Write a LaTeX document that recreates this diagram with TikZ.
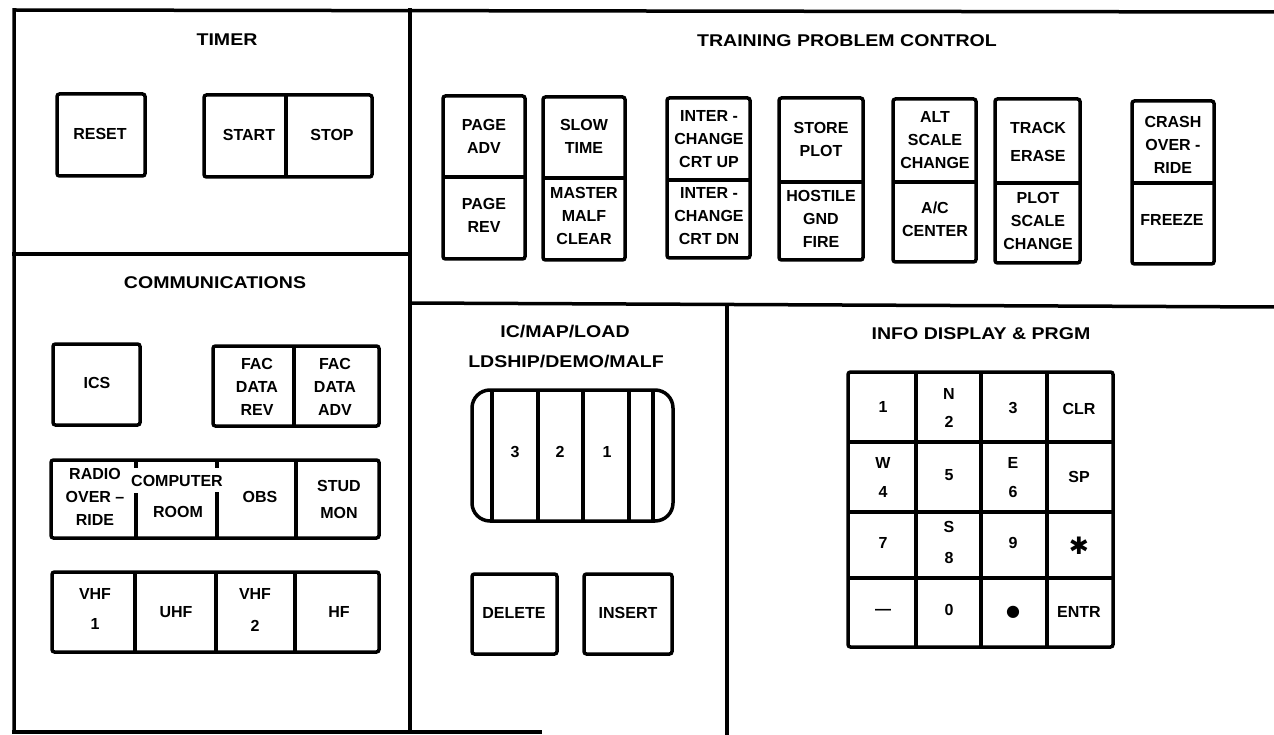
\documentclass[tikz,border=0pt]{standalone}
\usepackage{fontspec}
\setmainfont{Liberation Sans}
\newfontfamily\ttlfamily[FakeStretch=1.15]{Liberation Sans}
\newfontfamily\symfamily{DejaVu Sans}
\newcommand{\btnfont}{\bfseries\fontsize{16}{23}\selectfont}
\newcommand{\ttlfont}{\ttlfamily\bfseries\fontsize{17}{30}\selectfont}
\begin{document}
\begin{tikzpicture}[x=1pt,y=-1pt,
  panel/.style={line width=3.5pt, line cap=rect},
  btn/.style={line width=3.5pt, rounded corners=2.5pt},
  divider/.style={line width=3.2pt},
  lbl/.style={font=\btnfont, align=center, inner sep=0pt},
  ttl/.style={font=\ttlfont, inner sep=0pt}]
\useasboundingbox (0,0) rectangle (1274,735);
\fill[white] (0,0) rectangle (1274,735);
% ---------------- panel outlines ----------------
\draw[panel] (14,732) -- (14,10) -- (1274,12);
\draw[panel] (14,254) -- (410,254);
\draw[panel] (410,10) -- (410,732);
\draw[panel] (410,303) -- (1274,307);
\draw[panel] (727,305) -- (727,735);
\draw[panel] (14,732) -- (540,732);
% ---------------- TIMER ----------------
\node[ttl] (ttimer) at (227,40) {TIMER};
\draw[btn] (57,94) rectangle (145,176);
\node[lbl] (reset) at (100,134) {RESET};
\draw[btn] (204,95) rectangle (372,177);
\draw[divider] (286,95) -- (286,177);
\node[lbl] (start) at (249,135) {START};
\node[lbl] (stop) at (332,135) {STOP};
% ---------------- TRAINING PROBLEM CONTROL ----------------
\node[ttl] (ttrain) at (847,41) {TRAINING PROBLEM CONTROL};
\draw[btn] (443,96) rectangle (525,259);
\draw[divider] (443,177) -- (525,177);
\node[lbl] (pageadv) at (484,136.5) {PAGE\\ADV};
\node[lbl] (pagerev) at (484,215.5) {PAGE\\REV};
\draw[btn] (543,97) rectangle (625,260);
\draw[divider] (543,178) -- (625,178);
\node[lbl] (slow) at (584,136.5) {SLOW\\TIME};
\node[lbl] (master) at (584,215.5) {MASTER\\MALF\\CLEAR};
\draw[btn] (667,98) rectangle (750,258);
\draw[divider] (667,180) -- (750,180);
\node[lbl] (icup) at (709,139) {INTER -\\CHANGE\\CRT UP};
\node[lbl] (icdn) at (709,216) {INTER -\\CHANGE\\CRT DN};
\draw[btn] (779,98) rectangle (863,260);
\draw[divider] (779,182) -- (863,182);
\node[lbl] (store) at (821,139) {STORE\\PLOT};
\node[lbl] (hostile) at (821,219) {HOSTILE\\GND\\FIRE};
\draw[btn] (893,99) rectangle (976,262);
\draw[divider] (893,182) -- (976,182);
\node[lbl] (alt) at (935,140) {ALT\\SCALE\\CHANGE};
\node[lbl] (accenter) at (935,219.5) {A/C\\CENTER};
\draw[btn] (995,99) rectangle (1080,263);
\draw[divider] (995,183) -- (1080,183);
\node[lbl] (track) at (1038,142) {TRACK\\[5pt]ERASE};
\node[lbl] (plot) at (1038,221) {PLOT\\SCALE\\CHANGE};
\draw[btn] (1132,101) rectangle (1214,264);
\draw[divider] (1132,183) -- (1214,183);
\node[lbl] (crash) at (1173,145) {CRASH\\OVER -\\RIDE};
\node[lbl] (freeze) at (1172,220) {FREEZE};
% ---------------- COMMUNICATIONS ----------------
\node[ttl] (tcomm) at (215,283) {COMMUNICATIONS};
\draw[btn] (53,344) rectangle (140,425);
\node[lbl] (ics) at (97,383) {ICS};
\draw[btn] (213,346) rectangle (379,426);
\draw[divider] (294,346) -- (294,426);
\node[lbl] (facrev) at (257,387) {FAC\\DATA\\REV};
\node[lbl] (facadv) at (335,387) {FAC\\DATA\\ADV};
\draw[btn] (51,460) rectangle (379,538);
\draw[divider] (136,460) -- (136,468);
\draw[divider] (136,493) -- (136,538);
\draw[divider] (217,460) -- (217,468);
\draw[divider] (217,492) -- (217,538);
\draw[divider] (296,460) -- (296,538);
\node[lbl] (radio) at (95,497) {RADIO\\OVER --\\RIDE};
\node[lbl] (computer) at (177,481) {COMPUTER};
\node[lbl] (room) at (178,512) {ROOM};
\node[lbl] (obs) at (260,497) {OBS};
\node[lbl] (stud) at (339,499.5) {STUD\\[4pt]MON};
\draw[btn] (52,572) rectangle (379,652);
\draw[divider] (135,572) -- (135,652);
\draw[divider] (216,572) -- (216,652);
\draw[divider] (295,572) -- (295,652);
\node[lbl] (vhf1) at (95,609) {VHF\\[7pt]1};
\node[lbl] (uhf) at (176,612) {UHF};
\node[lbl] (vhf2) at (255,610) {VHF\\[9pt]2};
\node[lbl] (hf) at (339,612) {HF};
% ---------------- IC/MAP/LOAD ----------------
\node[ttl] (tic1) at (565,332) {IC/MAP/LOAD};
\node[ttl] (tic2) at (566,362) {LDSHIP/DEMO/MALF};
\draw[btn, rounded corners=18pt] (472,390) rectangle (673,521);
\foreach \xx in {492,538,583,629,653} \draw[divider] (\xx,390) -- (\xx,521);
\node[lbl] (r3) at (515,452) {3};
\node[lbl] (r2) at (560,452) {2};
\node[lbl] (r1) at (607,452) {1};
\draw[btn] (472,574) rectangle (557,654);
\node[lbl] (delete) at (514,613) {DELETE};
\draw[btn] (584,574) rectangle (672,654);
\node[lbl] (insert) at (628,613) {INSERT};
% ---------------- INFO DISPLAY & PRGM ----------------
\node[ttl] (tinfo) at (981,334) {INFO DISPLAY \& PRGM};
\draw[btn] (848,372) rectangle (1113,647);
\foreach \xx in {916,981,1047} \draw[divider] (\xx,372) -- (\xx,647);
\foreach \yy in {442,512,578} \draw[divider] (848,\yy) -- (1113,\yy);
\node[lbl] (k1) at (883,407) {1};
\node[lbl] (k2) at (949,408) {N\\[5pt]2};
\node[lbl] (k3) at (1013,408) {3};
\node[lbl] (kclr) at (1079,409) {CLR};
\node[lbl] (k4) at (883,477.5) {W\\[6pt]4};
\node[lbl] (k5) at (949,475) {5};
\node[lbl] (k6) at (1013,478) {E\\[6pt]6};
\node[lbl] (ksp) at (1079,477) {SP};
\node[lbl] (k7) at (883,543) {7};
\node[lbl] (k8) at (949,542.5) {S\\[8pt]8};
\node[lbl] (k9) at (1013,543) {9};
\node[lbl, font=\symfamily\bfseries\fontsize{24}{26}\selectfont] (kstar) at (1079,546) {✱};
\node[lbl] (kminus) at (883,612) {—};
\node[lbl] (k0) at (949,610) {0};
\node[lbl, font=\symfamily\fontsize{16}{20}\selectfont] (kdot) at (1013,612) {●};
\node[lbl] (kentr) at (1079,612) {ENTR};
\end{tikzpicture}
\end{document}
